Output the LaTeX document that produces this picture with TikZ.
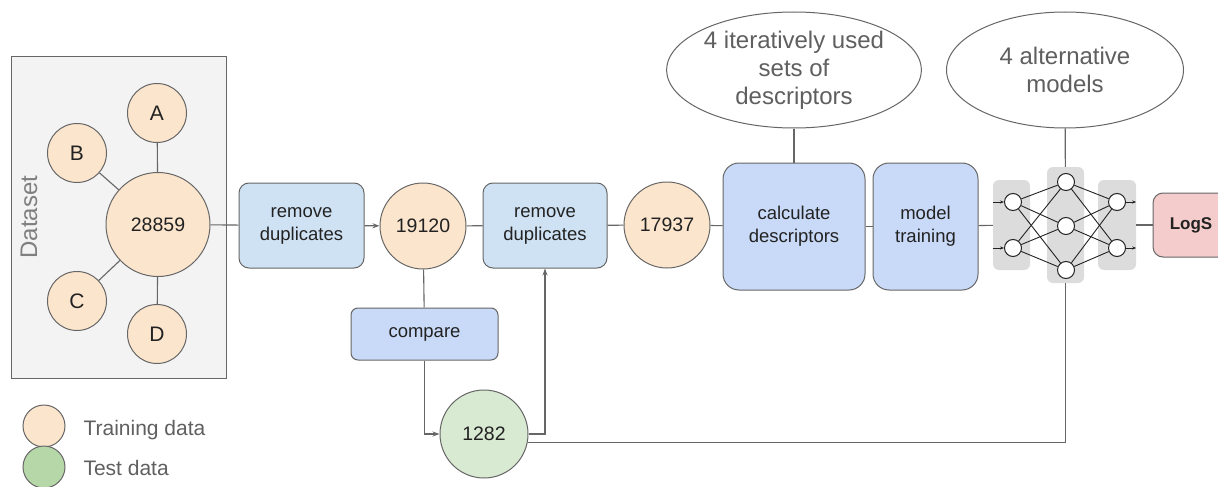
\documentclass[tikz,border=0pt]{standalone}
\usepackage{fontspec}
\setmainfont{Liberation Sans}
\usepackage{xcolor}
\usetikzlibrary{arrows.meta,positioning,shapes.geometric}
\definecolor{linegray}{HTML}{666666}
\definecolor{framefill}{HTML}{F3F3F3}
\definecolor{trainfill}{HTML}{FCE5CD}
\definecolor{testfill}{HTML}{D9EAD3}
\definecolor{testlegend}{HTML}{B6D7A8}
\definecolor{dupfill}{HTML}{CFE2F3}
\definecolor{stepfill}{HTML}{C9DAF8}
\definecolor{logsfill}{HTML}{F4CCCC}
\definecolor{layerfill}{HTML}{DCDCDC}
\definecolor{inktext}{HTML}{222222}
\definecolor{softtext}{HTML}{5F5F5F}

\begin{document}
\begin{tikzpicture}[x=1pt, y=-1pt,
  every node/.style={text=inktext},
  dot/.style={circle, draw=linegray, line width=1pt, fill=trainfill, inner sep=0pt, font=\fontsize{19.5}{23}\selectfont},
  proc/.style={draw=linegray, line width=1pt, rounded corners=10pt, align=center, font=\fontsize{18.5}{23}\selectfont},
  note/.style={ellipse, draw=linegray, line width=1pt, fill=white, align=center, inner sep=0pt, text=softtext, font=\fontsize{24}{28}\selectfont},
  link/.style={draw=linegray, line width=1.1pt},
  arr/.style={link, -{Stealth[length=7pt, width=5pt]}},
  layer/.style={fill=layerfill, rounded corners=6pt, inner sep=0pt},
  neuron/.style={circle, draw=inktext, line width=1pt, fill=white, minimum size=17, inner sep=0pt},
  nnedge/.style={draw=inktext, line width=0.9pt},
  legend/.style={anchor=west, text=softtext, font=\fontsize{21}{24}\selectfont}]
  \useasboundingbox (0,0) rectangle (1218,487);
  \clip (0,0) rectangle (1218,487);

  % dataset
  \node[draw=linegray, line width=1pt, fill=framefill, minimum width=215, minimum height=321, inner sep=0pt] (ds) at (118.5,217.5) {};
  \node[rotate=90, text=softtext!80, font=\fontsize{24}{28}\selectfont] (dsname) at (29,217) {Dataset};
  \node[dot, minimum size=104] (all) at (158,224.5) {28859};
  \node[dot, minimum size=59, font=\fontsize{21}{24}\selectfont] (cA) at (157,113) {A};
  \node[dot, minimum size=59, font=\fontsize{21}{24}\selectfont] (cB) at (77,153) {B};
  \node[dot, minimum size=59, font=\fontsize{21}{24}\selectfont] (cC) at (77,301) {C};
  \node[dot, minimum size=59, font=\fontsize{21}{24}\selectfont] (cD) at (157,334) {D};
  \foreach \c in {cA,cB,cC,cD}
    \draw[link] (\c) -- (all);

  % pipeline
  \node[proc, fill=dupfill, minimum width=125, minimum height=85] (rd1) at (301.5,225.5) {remove\\duplicates};
  \node[dot, minimum size=86] (s1) at (423,226) {19120};
  \node[proc, fill=dupfill, minimum width=124, minimum height=85] (rd2) at (545,225.5) {remove\\duplicates};
  \node[dot, minimum size=86] (s2) at (667,225) {17937};
  \node[proc, fill=stepfill, rounded corners=16pt, minimum width=142, minimum height=127] (calc) at (794,226.5) {calculate\\descriptors};
  \node[proc, fill=stepfill, rounded corners=16pt, minimum width=105, minimum height=127] (fit) at (925.5,226.5) {model\\training};
  \node[note, minimum width=235, minimum height=116] (descsets) at (794,70) {4 iteratively used\\sets of\\descriptors};
  \node[note, minimum width=237, minimum height=116] (models) at (1065,70) {4 alternative\\models};
  \node[proc, fill=stepfill, rounded corners=7pt, minimum width=147, minimum height=52] (cmp) at (424.5,334) {compare};
  \node[dot, fill=testfill, minimum size=88] (test) at (484,434) {1282};
  \node[proc, fill=logsfill, rounded corners=10pt, minimum width=76, minimum height=64, font=\fontsize{17}{20}\selectfont\bfseries] (logs) at (1191,225) {LogS};

  % network
  \node[layer, minimum width=37, minimum height=90] (L1) at (1011.5,225) {};
  \node[layer, minimum width=37, minimum height=116] (L2) at (1065.5,225) {};
  \node[layer, minimum width=38, minimum height=90] (L3) at (1117,225) {};
  \foreach \y [count=\i] in {202,248}
    \node[neuron] (in\i) at (1013,\y) {};
  \foreach \y [count=\i] in {182,226,270}
    \node[neuron] (hid\i) at (1066,\y) {};
  \foreach \y [count=\i] in {202,248}
    \node[neuron] (out\i) at (1117,\y) {};
  \foreach \i in {1,2}
    \foreach \j in {1,2,3} {
      \draw[nnedge] (in\i) -- (hid\j);
      \draw[nnedge] (hid\j) -- (out\i);
    }
  \foreach \i in {1,2} {
    \draw[nnedge, -{Stealth[length=4pt, width=3pt]}] (in\i.west -| L1.west) -- (in\i.west);
    \draw[nnedge, -{Stealth[length=4pt, width=3pt]}] (out\i.east) -- (out\i.east -| L3.east);
  }

  % connectors
  \draw[link] (all) -- (rd1);
  \draw[arr] (rd1) -- (s1);
  \draw[link] (s1) -- (rd2);
  \draw[link] (rd2) -- (s2);
  \draw[link] (s2) -- (calc);
  \draw[link] (calc) -- (fit);
  \draw[link] (descsets) -- (calc);
  \draw[link] (fit) -- (L1);
  \draw[link] (models) -- (L2);
  \draw[link] (L3) -- (logs);
  \draw[link] (s1) -- (cmp);
  \draw[arr] (cmp.south) |- (test.west);
  \draw[arr] (test.east) -| (rd2.south);
  \draw[link] (test.-11) -| (L2.south);

  % legend
  \node[dot, minimum size=42] (lgtrain) at (44,426) {};
  \node[legend] (lgtraintxt) at (80,430) {Training data};
  \node[dot, fill=testlegend, minimum size=42] (lgtest) at (44,467) {};
  \node[legend] (lgtesttxt) at (80,468) {Test data};
\end{tikzpicture}
\end{document}
